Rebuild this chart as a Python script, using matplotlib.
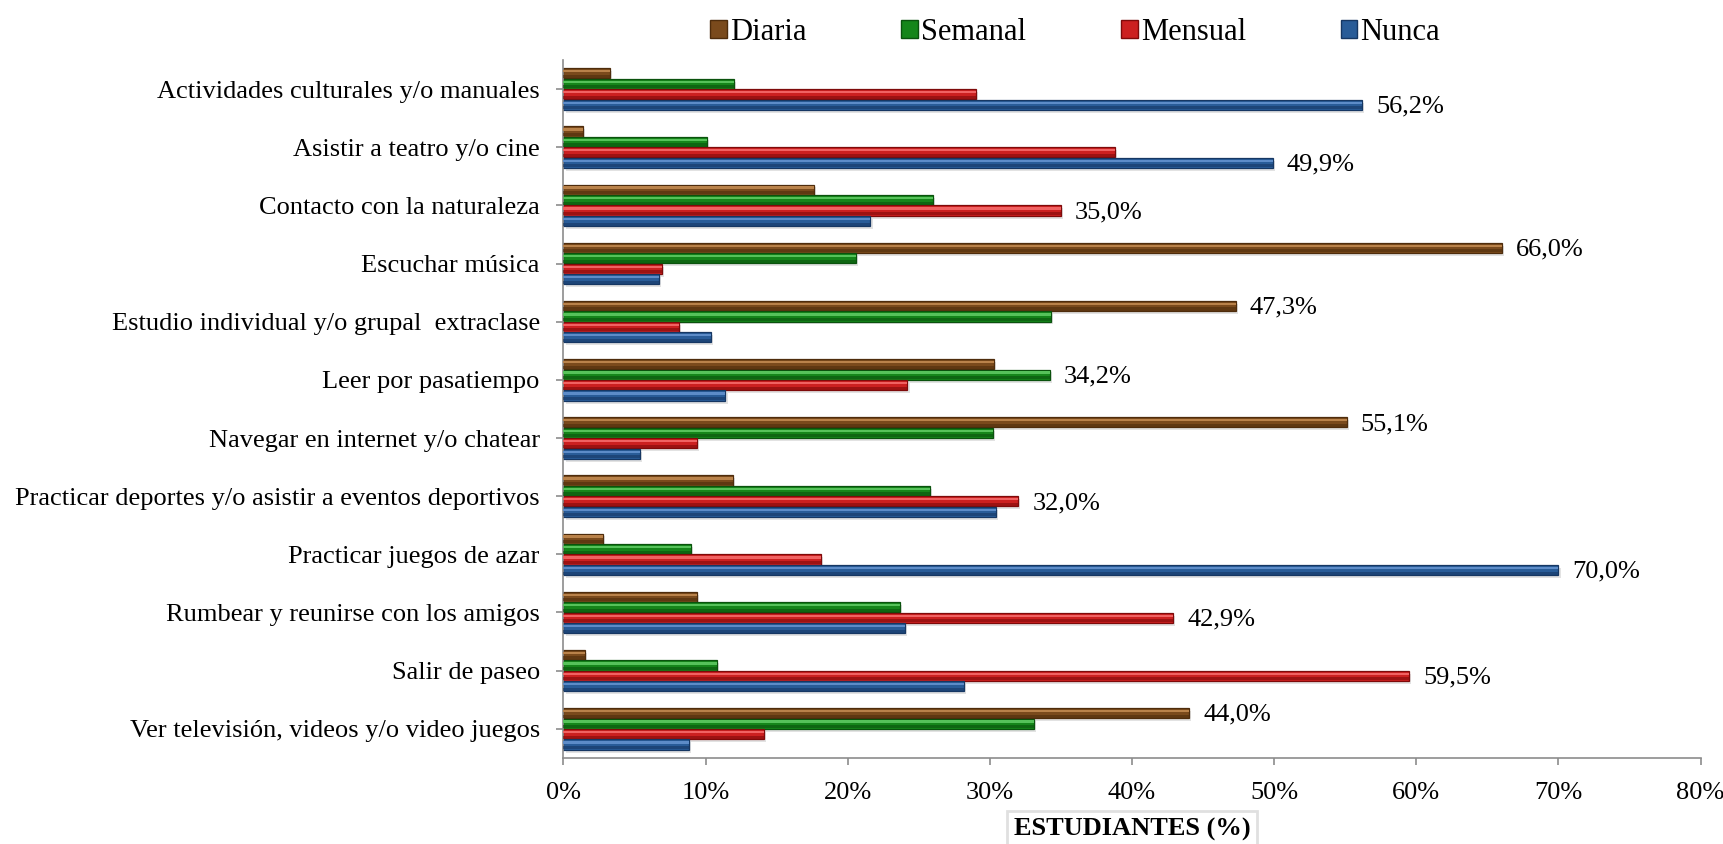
import numpy as np
import matplotlib.pyplot as plt
from matplotlib.patches import Patch

plt.rcParams['font.family'] = ['Liberation Serif', 'DejaVu Serif']

# Datos (porcentaje de estudiantes)
categorias = [
    "Actividades culturales y/o manuales",
    "Asistir a teatro y/o cine",
    "Contacto con la naturaleza",
    "Escuchar música",
    "Estudio individual y/o grupal  extraclase",
    "Leer por pasatiempo",
    "Navegar en internet y/o chatear",
    "Practicar deportes y/o asistir a eventos deportivos",
    "Practicar juegos de azar",
    "Rumbear y reunirse con los amigos",
    "Salir de paseo",
    "Ver televisión, videos y/o video juegos",
]
diaria = [3.3, 1.4, 17.6, 66.0, 47.3, 30.3, 55.1, 11.9, 2.8, 9.4, 1.5, 44.0]
semanal = [12.0, 10.1, 26.0, 20.6, 34.3, 34.2, 30.2, 25.8, 9.0, 23.7, 10.8, 33.1]
mensual = [29.0, 38.8, 35.0, 6.9, 8.1, 24.2, 9.4, 32.0, 18.1, 42.9, 59.5, 14.1]
nunca = [56.2, 49.9, 21.6, 6.7, 10.4, 11.4, 5.4, 30.4, 70.0, 24.0, 28.2, 8.8]

series = ["Diaria", "Semanal", "Mensual", "Nunca"]
valores = [diaria, semanal, mensual, nunca]
# (medio, claro, oscuro)
colores = [
    ("#7a4a1c", "#b9824a", "#4e2c0c"),
    ("#15861a", "#56c25a", "#0a520d"),
    ("#cc2020", "#f06262", "#7e0a0a"),
    ("#295c98", "#5d8cc8", "#163763"),
]

fig = plt.figure(figsize=(17.23, 8.44), dpi=100)
ax = fig.add_axes([0.327, 0.102, 0.66, 0.827])

n = len(categorias)
ypos = np.arange(n)[::-1]
paso = 0.18
alto = 0.175
offsets = [1.5 * paso, 0.5 * paso, -0.5 * paso, -1.5 * paso]

for vals, (mid, light, dark), off in zip(valores, colores, offsets):
    yc = ypos + off
    # sombra
    ax.barh(yc - 0.05, vals, height=alto, left=0.15, color="#e2e2e2", lw=0, zorder=1)
    ax.barh(yc, vals, height=alto, color=mid, edgecolor=dark, lw=0.9, zorder=2)
    ax.barh(yc + alto * 0.2, vals, height=alto * 0.22, color=light, lw=0, zorder=3)
    ax.barh(yc - alto * 0.3, vals, height=alto * 0.3, color=dark, lw=0, alpha=0.6, zorder=3)

# etiqueta solo en el valor máximo de cada actividad
for i in range(n):
    fila = [v[i] for v in valores]
    k = int(np.argmax(fila))
    ax.text(fila[k] + 1.0, ypos[i] + offsets[k] - 0.03, f"{fila[k]:.1f}%".replace(".", ","),
            va="center", ha="left", fontsize=19)

ax.set_xlim(0, 80)
ax.set_ylim(-0.5, n - 0.5)
ax.set_xticks(np.arange(0, 81, 10))
ax.set_xticklabels([f"{t}%" for t in range(0, 81, 10)], fontsize=19)
ax.set_yticks(ypos)
ax.set_yticklabels(categorias, fontsize=19)

for s in ["top", "right"]:
    ax.spines[s].set_visible(False)
for s in ["left", "bottom"]:
    ax.spines[s].set_color("#8c8c8c")
    ax.spines[s].set_linewidth(1.2)
ax.tick_params(axis="both", colors="#8c8c8c", length=5, width=1.2, labelcolor="black")
ax.tick_params(axis="x", pad=12)
ax.tick_params(axis="y", pad=12)

ax.set_xlabel("ESTUDIANTES (%)", fontsize=19, fontweight="bold", labelpad=10,
              bbox=dict(boxstyle="square,pad=0.25", fc="white", ec="#e0e0e0", lw=2))

handles = [Patch(facecolor=c[0], edgecolor=c[2]) for c in colores]
fig.legend(handles, series, loc="center", bbox_to_anchor=(0.624, 0.962), ncol=4,
           frameon=False, fontsize=22, handlelength=0.55, handleheight=0.55,
           handletextpad=0.1, columnspacing=3.1)

fig.savefig("out.png", dpi=100)
